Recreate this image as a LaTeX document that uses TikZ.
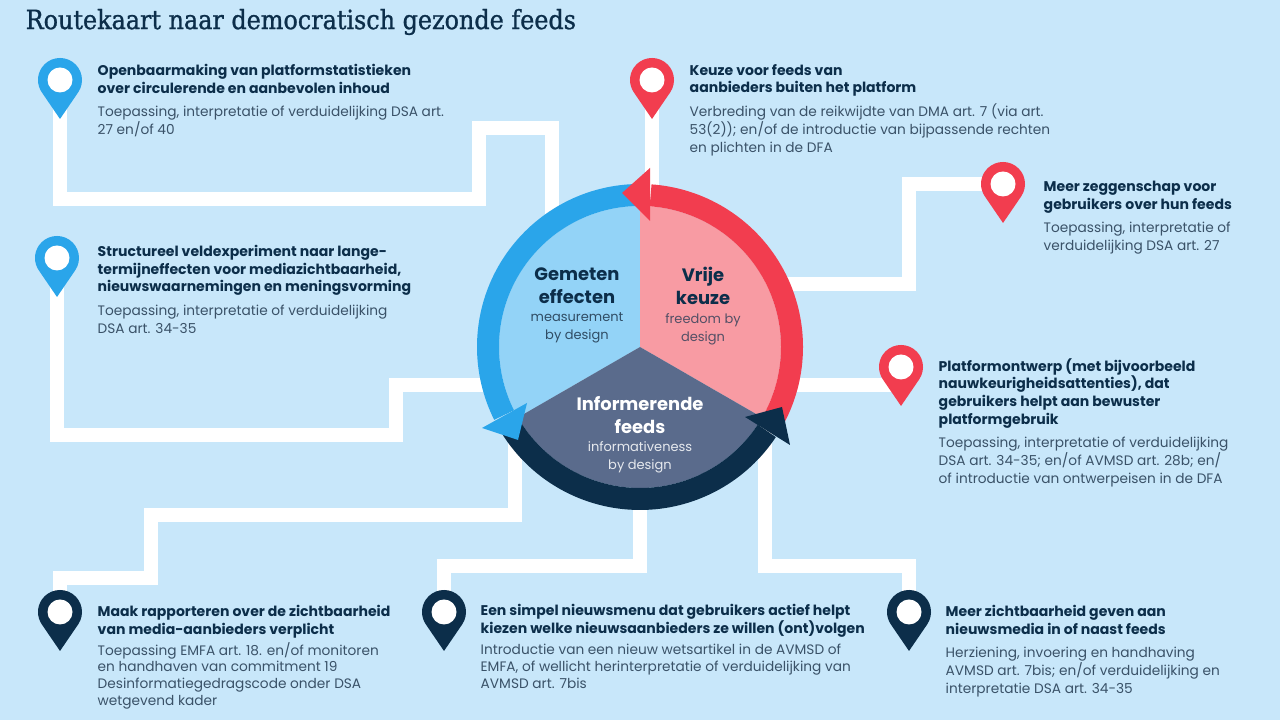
\documentclass[tikz,border=0pt]{standalone}
\usepackage{fontspec}
\setmainfont{Poppins}
\newfontfamily\titlefont[FakeBold=1]{DejaVu Serif Condensed}
\usetikzlibrary{positioning}
\definecolor{paper}{HTML}{C8E7FA}
\definecolor{navy}{HTML}{0C2E4A}
\definecolor{bodyink}{HTML}{3A5268}
\definecolor{ringblue}{HTML}{2AA5EA}
\definecolor{ringred}{HTML}{F23D4F}
\definecolor{pieblue}{HTML}{93D3F7}
\definecolor{piered}{HTML}{F89BA3}
\definecolor{pieslate}{HTML}{5A6B8C}

\begin{document}
\begin{tikzpicture}[
    route/.style={draw=white, line width=0.14cm},
    ringarc/.style={line width=0.22cm},
    struts/.style={execute at begin node=\strut, execute at end node=\strut},
    headtxt/.style={struts, anchor=north west, inner sep=0pt, align=left, text=navy,
                    font=\fontsize{4.0}{5.05}\selectfont\bfseries},
    subtxt/.style={struts, inner sep=0pt, align=left, text=bodyink,
                   font=\fontsize{3.9}{5.05}\selectfont},
    tightsub/.style={font=\fontsize{3.9}{4.75}\selectfont},
    hubhead/.style={struts, inner sep=0pt, align=center,
                    font=\fontsize{5.1}{6.5}\selectfont\bfseries},
    hubsub/.style={struts, inner sep=0pt, align=center,
                   font=\fontsize{3.7}{5.05}\selectfont},
    pics/mappin/.style={code={
        \fill[#1] (0,-0.39) -- (-34.3:0.22) arc[start angle=-34.3, end angle=214.3, radius=0.22] -- cycle;
        \fill[white] (0,0) circle (0.125);
    }}
]
\useasboundingbox (0,0) rectangle (12.8,7.2);
\fill[paper] (0,0) rectangle (12.8,7.2);

\node[anchor=west, inner sep=0pt, text=navy, font=\fontsize{7.55}{9}\selectfont\titlefont] (kop) at (0.25,6.98)
    {Routekaart naar democratisch gezonde feeds};

\coordinate (hub) at (6.40,3.73);
\coordinate (pinA) at (0.60,6.40);
\coordinate (pinB) at (0.57,4.62);
\coordinate (pinC) at (6.52,6.40);
\coordinate (pinD) at (10.03,5.36);
\coordinate (pinE) at (9.01,3.53);
\coordinate (pinF) at (0.60,1.08);
\coordinate (pinG) at (4.44,1.08);
\coordinate (pinH) at (9.09,1.08);

% --- routes to the hub ---
\draw[route] (pinA) |- (4.79,5.21) |- (5.52,5.92) |- (hub);
\draw[route] (pinB) |- (3.96,2.85) |- (6.40,3.35) -- (hub);
\draw[route] (pinC) |- (hub);
\draw[route] (pinD) -| (9.09,4.36) -| (hub);
\draw[route] (pinE) |- (6.40,3.35) -- (hub);
\draw[route] (pinF) |- (1.51,1.42) |- (5.15,2.05) |- (hub);
\draw[route] (pinG) |- (6.40,1.54) -- (hub);
\draw[route] (pinH) |- (7.65,1.54) |- (hub);

% --- pie ---
\fill[pieblue] (hub) -- ++(90:1.41) arc[start angle=90, end angle=210, radius=1.41] -- cycle;
\fill[piered] (hub) -- ++(-30:1.41) arc[start angle=-30, end angle=90, radius=1.41] -- cycle;
\fill[pieslate] (hub) -- ++(210:1.41) arc[start angle=210, end angle=330, radius=1.41] -- cycle;

% --- ring ---
\draw[ringarc, ringblue] (hub) ++(90:1.52) arc[start angle=90, end angle=206.6, radius=1.52];
\draw[ringarc, ringred] (hub) ++(-28:1.52) arc[start angle=-28, end angle=86, radius=1.52];
\draw[ringarc, navy] (hub) ++(212:1.52) arc[start angle=212, end angle=326.5, radius=1.52];
\fill[navy] (7.45,3.03) -- (7.82,3.13) -- (7.90,2.75) -- cycle;
\fill[ringred] (6.50,5.52) -- (6.22,5.27) -- (6.50,4.99) -- cycle;
\fill[ringblue] (5.27,3.17) -- (5.18,2.80) -- (4.82,2.92) -- cycle;

% --- hub labels ---
\node[hubhead, text=navy] (gemeten) at (5.77,4.305) {Gemeten\\effecten};
\node[hubsub, text=navy!85!white, below=0.2pt of gemeten] (gemetensub) {measurement\\by design};
\node[hubhead, text=navy] (vrije) at (7.03,4.305) {Vrije\\keuze};
\node[hubsub, text=navy!70!piered, below=0.2pt of vrije] (vrijesub) {freedom by\\design};
\node[hubhead, text=white] (info) at (6.40,3.02) {Informerende\\feeds};
\node[hubsub, text=white!85!pieslate, below=0.2pt of info] (infosub) {informativeness\\by design};

% --- pins ---
\pic at (pinA) {mappin=ringblue};
\pic at (pinB) {mappin=ringblue};
\pic at (pinC) {mappin=ringred};
\pic at (pinD) {mappin=ringred};
\pic at (pinE) {mappin=ringred};
\pic at (pinF) {mappin=navy};
\pic at (pinG) {mappin=navy};
\pic at (pinH) {mappin=navy};

% --- texts ---
\node[headtxt] (txtA) at (0.97,6.565) {Openbaarmaking van platformstatistieken\\over circulerende en aanbevolen inhoud};
\node[subtxt, below right=1.8pt and 0pt of txtA.south west] (subA) {Toepassing, interpretatie of verduidelijking DSA art.\\27 en/of 40};

\node[headtxt] (txtB) at (0.97,4.755) {Structureel veldexperiment naar lange-\\termijneffecten voor mediazichtbaarheid,\\nieuwswaarnemingen en meningsvorming};
\node[subtxt, below right=1.8pt and 0pt of txtB.south west] (subB) {Toepassing, interpretatie of verduidelijking\\DSA art. 34-35};

\node[headtxt] (txtC) at (6.89,6.565) {Keuze voor feeds van\\aanbieders buiten het platform};
\node[subtxt, below right=1.2pt and 0pt of txtC.south west] (subC) {Verbreding van de reikwijdte van DMA art. 7 (via art.\\53(2)); en/of de introductie van bijpassende rechten\\en plichten in de DFA};

\node[headtxt] (txtD) at (10.43,5.395) {Meer zeggenschap voor\\gebruikers over hun feeds};
\node[subtxt, below right=1.8pt and 0pt of txtD.south west] (subD) {Toepassing, interpretatie of\\verduidelijking DSA art. 27};

\node[headtxt] (txtE) at (9.38,3.625) {Platformontwerp (met bijvoorbeeld\\nauwkeurigheidsattenties), dat\\gebruikers helpt aan bewuster\\platformgebruik};
\node[subtxt, below right=1.8pt and 0pt of txtE.south west] (subE) {Toepassing, interpretatie of verduidelijking\\DSA art. 34-35; en/of AVMSD art. 28b; en/\\of introductie van ontwerpeisen in de DFA};

\node[headtxt] (txtF) at (0.97,1.155) {Maak rapporteren over de zichtbaarheid\\van media-aanbieders verplicht};
\node[subtxt, tightsub, below right=0.4pt and 0pt of txtF.south west] (subF) {Toepassing EMFA art. 18. en/of monitoren\\en handhaven van commitment 19\\Desinformatiegedragscode onder DSA\\wetgevend kader};

\node[headtxt] (txtG) at (4.80,1.165) {Een simpel nieuwsmenu dat gebruikers actief helpt\\kiezen welke nieuwsaanbieders ze willen (ont)volgen};
\node[subtxt, tightsub, below right=1.2pt and 0pt of txtG.south west] (subG) {Introductie van een nieuw wetsartikel in de AVMSD of\\EMFA, of wellicht herinterpretatie of verduidelijking van\\AVMSD art. 7bis};

\node[headtxt] (txtH) at (9.45,1.155) {Meer zichtbaarheid geven aan\\nieuwsmedia in of naast feeds};
\node[subtxt, below right=1.8pt and 0pt of txtH.south west] (subH) {Herziening, invoering en handhaving\\AVMSD art. 7bis; en/of verduidelijking en\\interpretatie DSA art. 34-35};
\end{tikzpicture}
\end{document}
